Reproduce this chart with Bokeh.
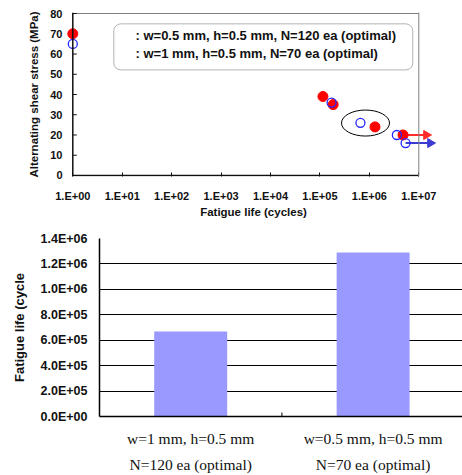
import math

from bokeh.plotting import figure
from bokeh.layouts import column
from bokeh.models import (Range1d, FixedTicker, CustomJSTickFormatter, Label,
                          BoxAnnotation, Span, LinearAxis)
from bokeh.embed import file_html
from bokeh.resources import INLINE

# ---- S-N data (fatigue life vs alternating shear stress) ----
red_life = [1, 1.15e5, 1.85e5, 1.3e6, 4.8e6]
red_stress = [70, 39, 35, 24, 20]
blue_life = [1, 1.72e5, 6.6e5, 3.6e6, 5.4e6]
blue_stress = [65, 36, 26, 20, 16]
red_label = ": w=0.5 mm, h=0.5 mm, N=120 ea (optimal)"
blue_label = ": w=1 mm, h=0.5 mm, N=70 ea (optimal)"
life_ticks = [1e0, 1e1, 1e2, 1e3, 1e4, 1e5, 1e6, 1e7]
stress_ticks = [0, 10, 20, 30, 40, 50, 60, 70, 80]

# ---- fatigue life comparison bars ----
bar_line1 = ["w=1 mm, h=0.5 mm", "w=0.5 mm, h=0.5 mm"]
bar_line2 = ["N=120 ea (optimal)", "N=70 ea (optimal)"]
bar_life = [6.68e5, 1.29e6]
bar_ticks = [0, 2e5, 4e5, 6e5, 8e5, 1.0e6, 1.2e6, 1.4e6]

SANS = "Liberation Sans"
SERIF = "Liberation Serif"
RED = "#ff0000"
BLUE = "#2525ff"
RED_ARROW = "#ff2a2a"
BLUE_ARROW = "#3c3cd2"
INK = "#111111"
FRAME_GREY = "#7f7f7f"

DEC = 49.43           # pixels per decade on the x axis
YPX = 20.83           # pixels per 10 MPa
PAD_L, PAD_R = 6.3, 21.7   # extra room left of 1.E+00 and right of 1.E+07


def lx(px):
    """x value that lies px pixels right of the 1.E+00 line"""
    return 10 ** (px / DEC)


def ly(px):
    """y value that lies px pixels above the zero line"""
    return px / YPX * 10


# ================= top: S-N plot =================
p1 = figure(width=462, height=220, x_axis_type="log",
            x_range=Range1d(lx(-PAD_L), 1e7 * lx(PAD_R)),
            y_range=Range1d(-0.5, 80.5),
            output_backend="svg", toolbar_location=None,
            min_border_left=66, min_border_right=22,
            min_border_top=12, min_border_bottom=40)
p1.grid.visible = False
p1.outline_line_color = None

p1.xaxis.ticker = FixedTicker(ticks=life_ticks, minor_ticks=[])
p1.xaxis.formatter = CustomJSTickFormatter(code="""
    const e = Math.round(Math.log10(tick));
    return "1.E+" + (e < 10 ? "0" : "") + e;
""")
p1.yaxis.ticker = FixedTicker(ticks=stress_ticks, minor_ticks=[])
p1.xaxis.axis_label = "Fatigue life (cycles)"
p1.yaxis.axis_label = "Alternating shear stress (MPa)"
for ax in (p1.xaxis, p1.yaxis):
    ax.axis_line_color = None
    ax.major_tick_out = 0
    ax.minor_tick_in = 0
    ax.minor_tick_out = 0
    ax.major_tick_line_color = INK
    ax.major_label_text_font = SANS
    ax.major_label_text_font_style = "bold"
    ax.major_label_text_font_size = "11px"
    ax.major_label_text_color = INK
    ax.axis_label_text_font = SANS
    ax.axis_label_text_font_style = "bold"
    ax.axis_label_text_font_size = "11.5px"
    ax.axis_label_text_color = INK
p1.xaxis.major_tick_in = 4
p1.yaxis.major_tick_in = 0
p1.xaxis.major_label_standoff = 13
p1.xaxis.axis_label_standoff = 1
p1.yaxis.major_label_standoff = 4
p1.yaxis.axis_label_standoff = 7

# plot box: dark left/bottom axes, grey top/right border
p1.add_layout(Span(location=1e7, dimension="height",
                   line_color=FRAME_GREY, line_width=1))
p1.segment(x0=[1], y0=[80], x1=[1e7], y1=[80], line_color=FRAME_GREY, line_width=1)
p1.add_layout(Span(location=1, dimension="height", line_color=INK, line_width=1.5))
p1.segment(x0=[1], y0=[0], x1=[1e7], y1=[0], line_color=INK, line_width=1.5)
p1.segment(x0=[1] * len(stress_ticks), y0=stress_ticks,
           x1=[lx(4)] * len(stress_ticks), y1=stress_ticks,
           line_color=INK, line_width=1)

# highlight ellipse around the mid-life pair
p1.ellipse(x=[8.35e5], y=[25.9], width=48, height=26,
           width_units="screen", height_units="screen",
           fill_color=None, line_color="black", line_width=1)

# run-out arrows: shaft plus a right-pointing triangular head
for life, stress, tip_px, col in ((red_life, red_stress, 353.5, RED_ARROW),
                                  (blue_life, blue_stress, 357.5, BLUE_ARROW)):
    head = lx(tip_px)
    p1.segment(x0=[life[-1]], y0=[stress[-1]], x1=[head], y1=[stress[-1]],
               line_color=col, line_width=2)
    p1.scatter([head], [stress[-1]], marker="triangle", size=9,
               angle=-math.pi / 2, fill_color=col, line_color=col)

p1.scatter(red_life, red_stress, size=10, fill_color=RED, line_color=RED)
p1.scatter(blue_life, blue_stress, size=9, fill_color="white", fill_alpha=0,
           line_color=BLUE, line_width=1.3)

# legend box drawn by hand (rounded frame, marker keys, bold labels)
box = BoxAnnotation(left=lx(41), right=lx(340), bottom=ly(108.6), top=ly(156),
                    fill_color="white", fill_alpha=1,
                    line_color="black", line_width=1)
if "border_radius" in BoxAnnotation.properties():
    box.border_radius = 7
p1.add_layout(box)
p1.scatter([lx(50.7)], [ly(144.3)], size=10, fill_color=RED, line_color=RED)
p1.scatter([lx(50.7)], [ly(126)], size=9, fill_color=None,
           line_color=BLUE, line_width=1.3)
for txt, yy in ((red_label, ly(144.3)), (blue_label, ly(126))):
    p1.add_layout(Label(x=lx(62.7), y=yy, text=txt, text_font=SANS,
                        text_font_style="bold", text_font_size="13px",
                        text_color=INK, text_baseline="middle"))

# ================= bottom: bar chart =================
p2 = figure(width=462, height=255, x_range=Range1d(0, 1.99),
            y_range=Range1d(0, 1.4e6),
            output_backend="svg", toolbar_location=None,
            min_border_left=99, min_border_right=0,
            min_border_top=18, min_border_bottom=59)
p2.outline_line_color = None
p2.xgrid.visible = False
p2.ygrid.grid_line_color = "black"
p2.ygrid.grid_line_width = 1
p2.ygrid.ticker = FixedTicker(ticks=bar_ticks)

idx = [i + 0.5 for i in range(len(bar_life))]
p2.vbar(x=idx, top=bar_life, width=0.4, fill_color="#9999ff", line_color=None)

p2.yaxis.ticker = FixedTicker(ticks=bar_ticks, minor_ticks=[])
p2.yaxis.formatter = CustomJSTickFormatter(code="""
    const s = tick.toExponential(1).split("e");
    const e = parseInt(s[1]);
    return s[0] + "E" + (e < 0 ? "-" : "+") + String(Math.abs(e)).padStart(2, "0");
""")
p2.yaxis.axis_label = "Fatigue life (cycle"
p2.yaxis.major_tick_in = 0
p2.yaxis.major_tick_out = 0
p2.yaxis.minor_tick_in = 0
p2.yaxis.minor_tick_out = 0
p2.yaxis.major_label_standoff = 12
p2.yaxis.axis_label_standoff = 11
p2.yaxis.major_label_text_font = SANS
p2.yaxis.major_label_text_font_style = "bold"
p2.yaxis.major_label_text_font_size = "12.5px"
p2.yaxis.major_label_text_color = INK
p2.yaxis.axis_label_text_font = SANS
p2.yaxis.axis_label_text_font_style = "bold"
p2.yaxis.axis_label_text_font_size = "13px"
p2.yaxis.axis_label_text_color = INK
p2.yaxis.axis_line_color = "black"
p2.yaxis.axis_line_width = 1.5

# small inward tick between the two categories
per_px = 1.4e6 / 178.0
p2.segment(x0=[1], y0=[0], x1=[1], y1=[4 * per_px],
           line_color="black", line_width=1)

# two-line category captions: first line on the main x axis, second on another
cat_ticker = FixedTicker(ticks=idx, minor_ticks=[])
ax2 = LinearAxis()
p2.add_layout(ax2, "below")
for ax, rows, standoff in ((p2.xaxis[0], bar_line1, 13), (ax2, bar_line2, 6)):
    ax.ticker = cat_ticker
    ax.major_label_overrides = {x: t for x, t in zip(idx, rows)}
    ax.major_tick_in = 0
    ax.major_tick_out = 0
    ax.minor_tick_in = 0
    ax.minor_tick_out = 0
    ax.major_label_standoff = standoff
    ax.major_label_text_font = SERIF
    ax.major_label_text_font_style = "normal"
    ax.major_label_text_font_size = "15.5px"
    ax.major_label_text_color = INK
p2.xaxis[0].axis_line_color = "black"
p2.xaxis[0].axis_line_width = 1.5
ax2.axis_line_color = None

for p in (p1, p2):
    if "frame_align" in p.properties():
        p.frame_align = False

layout = column(p1, p2, spacing=0)
open("out.html", "w").write(file_html(layout, INLINE))
